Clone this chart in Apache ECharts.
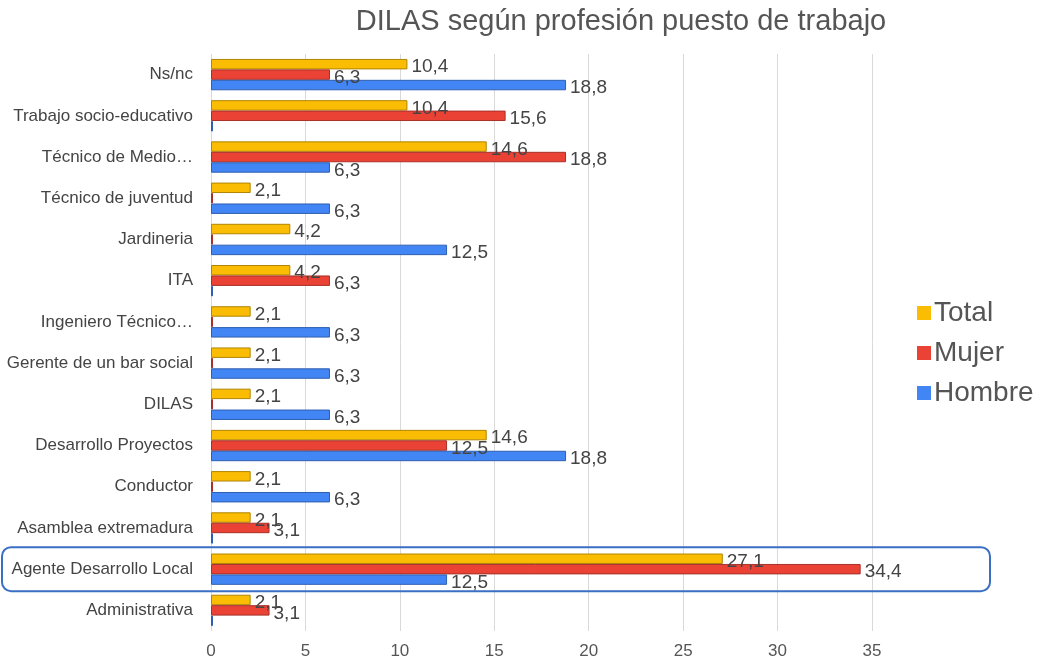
<!DOCTYPE html>
<html><head><meta charset="utf-8">
<script src="https://cdn.jsdelivr.net/npm/echarts@6/dist/echarts.min.js"></script>
<style>html,body{margin:0;padding:0;background:#fff}#c{width:1038px;height:660px}</style>
</head><body><div id="c"></div>
<script>
const categories = ["Administrativa","Agente Desarrollo Local","Asamblea extremadura","Conductor","Desarrollo Proyectos","DILAS","Gerente de un bar social","Ingeniero Técnico…","ITA","Jardineria","Técnico de juventud","Técnico de Medio…","Trabajo socio-educativo","Ns/nc"];
const hombre = [0,12.5,0,6.3,18.8,6.3,6.3,6.3,0,12.5,6.3,6.3,0,18.8];
const mujer  = [3.1,34.4,3.1,0,12.5,0,0,0,6.3,0,0,18.8,15.6,6.3];
const total  = [2.1,27.1,2.1,2.1,14.6,2.1,2.1,2.1,4.2,4.2,2.1,14.6,10.4,10.4];
const xTicks = [0,5,10,15,20,25,30,35];
const highlight = "Agente Desarrollo Local";

const FONT = "Liberation Sans, Arial, sans-serif";
function lbl(){
  return {show:true, position:'right', distance:4, color:'#444', fontSize:19, fontFamily:FONT,
    offset:[0,3],
    formatter:p => p.value ? String(p.value).replace('.', ',') : ''};
}
function ser(name, data, color, border){
  return {name, type:'bar', data, barMinHeight:2, barGap:'0%', barCategoryGap:'24%',
    itemStyle:{color, borderColor:border, borderWidth:1}, label:lbl()};
}
const chart = echarts.init(document.getElementById('c'), null, {renderer:'canvas'});
chart.setOption({
  animation:false,
  textStyle:{fontFamily:FONT},
  title:{text:'DILAS según profesión puesto de trabajo', left:616, top:2, textAlign:'center',
    textStyle:{fontSize:29, fontWeight:'normal', color:'#555', fontFamily:FONT}},
  legend:{orient:'vertical', left:912, top:294, itemWidth:14, itemHeight:14, itemGap:12,
    icon:'rect', data:['Total','Mujer','Hombre'],
    itemStyle:{borderWidth:0},
    textStyle:{fontSize:28, color:'#555', fontFamily:FONT, padding:[0,0,0,-2]}},
  grid:{left:211, right:166, top:54, bottom:29, containLabel:false},
  xAxis:{type:'value', min:0, max:35, interval:5,
    axisLine:{show:false}, axisTick:{show:false},
    axisLabel:{color:'#555', fontSize:17, margin:12, fontFamily:FONT,
      formatter:v => xTicks.includes(v) ? String(v) : ''},
    splitLine:{lineStyle:{color:'#d9d9d9'}}},
  yAxis:{type:'category', data:categories,
    axisLine:{show:false}, axisTick:{show:false},
    axisLabel:{color:'#444', fontSize:17, margin:18, fontFamily:FONT}},
  series:[
    ser('Total', total, '#fbbc04', '#b08603'),
    ser('Mujer', mujer, '#ea4335', '#a8302a'),
    ser('Hombre', hombre, '#4285f4', '#2f5fb0')
  ]
});
const yc = chart.convertToPixel({yAxisIndex:0}, highlight);
chart.setOption({graphic:[{type:'rect', shape:{x:2, y:yc-22, width:988, height:44, r:9},
  style:{fill:'none', stroke:'#3a6fc4', lineWidth:2}, z:100}]});
</script></body></html>
